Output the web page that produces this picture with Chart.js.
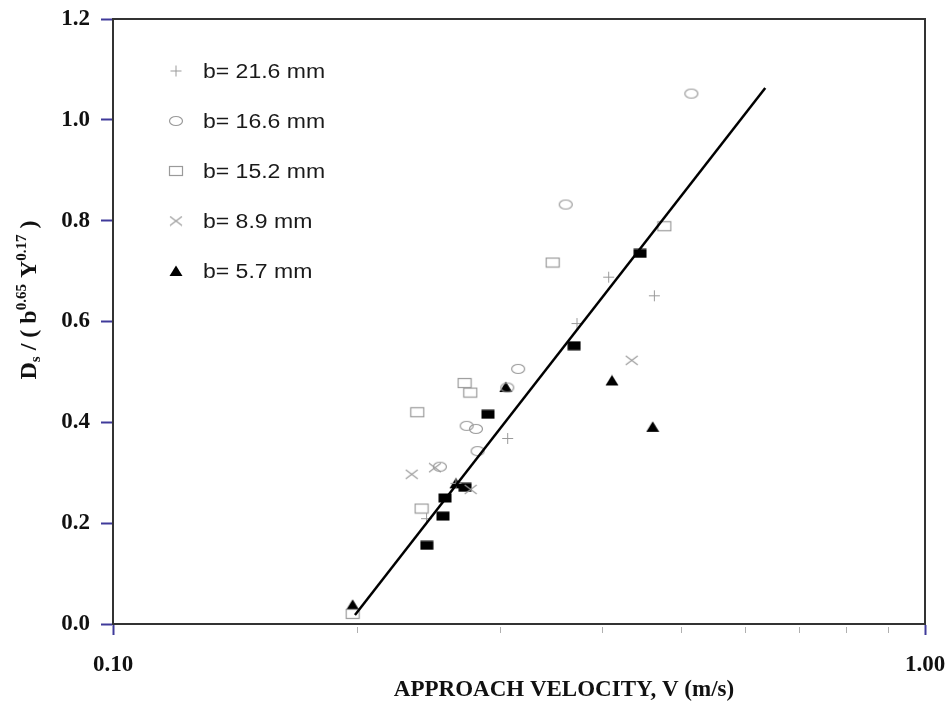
<!DOCTYPE html>
<html><head><meta charset="utf-8">
<script src="https://cdn.jsdelivr.net/npm/chart.js@4.4.1/dist/chart.umd.min.js"></script>
<style>html,body{margin:0;padding:0;background:#fff}#wrap{width:946px;height:702px;position:relative}</style>
</head><body><div id="wrap"><canvas id="c"></canvas></div>
<script>
// ---- data ----
const legendLabels = ['b= 21.6 mm', 'b= 16.6 mm', 'b= 15.2 mm', 'b= 8.9 mm', 'b= 5.7 mm'];
const v216 = [0.2433, 0.2644, 0.3062, 0.3727, 0.4078, 0.4642];
const d216 = [0.209, 0.279, 0.368, 0.596, 0.688, 0.651];
const v166 = [0.2527, 0.2726, 0.2799, 0.2812, 0.3059, 0.3155, 0.3610, 0.5155];
const d166 = [0.312, 0.393, 0.387, 0.343, 0.469, 0.506, 0.832, 1.052];
const v152 = [0.1973, 0.2399, 0.2370, 0.2710, 0.2754, 0.3479, 0.4775];
const d152 = [0.020, 0.229, 0.420, 0.478, 0.459, 0.717, 0.789];
const v89 = [0.2333, 0.2492, 0.2757, 0.4353];
const d89 = [0.297, 0.310, 0.267, 0.523];
const v57 = [0.1973, 0.2644, 0.3046, 0.4116, 0.4620];
const d57 = [0.038, 0.279, 0.470, 0.483, 0.391];
const vSolidSq = [0.2435, 0.2549, 0.2564, 0.2714, 0.2896, 0.3697, 0.4457];
const dSolidSq = [0.156, 0.214, 0.250, 0.271, 0.416, 0.552, 0.735];
const fitV = [0.1986, 0.6357];
const fitD = [0.018, 1.063];
const xTickValues = [0.1, 1.0];
const xTickText = ['0.10', '1.00'];
const yTickStep = 0.2;
const xTitle = 'APPROACH VELOCITY, V (m/s)';
const yTitleParts = ['D', 's', ' / ( b', '0.65', ' Y', '0.17', ' )'];

// ---- markers ----
const GREY = '#9a9a9a';
function mk(w, h, draw) { const c = document.createElement('canvas'); c.width = w; c.height = h; draw(c.getContext('2d')); return c; }
const mPlus = mk(13, 13, g => { g.strokeStyle = GREY; g.lineWidth = 1; g.beginPath(); g.moveTo(6.5, 1); g.lineTo(6.5, 12); g.moveTo(1, 6.5); g.lineTo(12, 6.5); g.stroke(); });
const mCircle = mk(16, 12, g => { g.strokeStyle = GREY; g.lineWidth = 1.2; g.beginPath(); g.ellipse(8, 6, 6.5, 4.5, 0, 0, Math.PI * 2); g.stroke(); });
const mSquare = mk(16, 12, g => { g.strokeStyle = GREY; g.lineWidth = 1.2; g.strokeRect(1.5, 1.5, 13, 9); });
const mCross = mk(14, 11, g => { g.strokeStyle = GREY; g.lineWidth = 1.1; g.beginPath(); g.moveTo(1, 1); g.lineTo(13, 10); g.moveTo(13, 1); g.lineTo(1, 10); g.stroke(); });
const mTri = mk(14, 12, g => { g.fillStyle = '#000'; g.beginPath(); g.moveTo(7, 0.5); g.lineTo(13.5, 11); g.lineTo(0.5, 11); g.closePath(); g.fill(); });
const mBlk = mk(14, 10, g => { g.fillStyle = '#000'; g.fillRect(0.5, 0.5, 13, 9); });

const pts = (V, D) => V.map((v, i) => ({ x: v, y: D[i] }));
const TICK_BLUE = '#3f3a9a';
const AXIS = '#333';
const isMajor = v => Math.abs(Math.log10(v) - Math.round(Math.log10(v))) < 1e-9;
const isWholeMinor = v => { const s = v / Math.pow(10, Math.floor(Math.log10(v) + 1e-9)); return Math.abs(s - Math.round(s)) < 1e-6; };

const datasets = [
  { label: 'fit', data: pts(fitV, fitD), showLine: true, pointRadius: 0, borderColor: '#000', borderWidth: 2.5, fill: false },
  { label: legendLabels[0], data: pts(v216, d216), pointStyle: mPlus, pointRadius: 6, legendMarker: mPlus },
  { label: legendLabels[1], data: pts(v166, d166), pointStyle: mCircle, pointRadius: 6, legendMarker: mCircle },
  { label: legendLabels[2], data: pts(v152, d152), pointStyle: mSquare, pointRadius: 6, legendMarker: mSquare },
  { label: legendLabels[3], data: pts(v89, d89), pointStyle: mCross, pointRadius: 6, legendMarker: mCross },
  { label: legendLabels[4], data: pts(v57, d57), pointStyle: mTri, pointRadius: 6, legendMarker: mTri },
  { label: 'solid', data: pts(vSolidSq, dSolidSq), pointStyle: mBlk, pointRadius: 6 }
];

const decor = {
  id: 'decor',
  afterDraw(chart) {
    const ctx = chart.ctx, a = chart.chartArea, xs = chart.scales.x;
    ctx.save();
    // top & right frame
    ctx.strokeStyle = AXIS; ctx.lineWidth = 2;
    ctx.beginPath(); ctx.moveTo(a.left, a.top); ctx.lineTo(a.right, a.top); ctx.lineTo(a.right, a.bottom); ctx.stroke();
    // minor x ticks (2..9 of each decade)
    ctx.strokeStyle = '#b0b0b0'; ctx.lineWidth = 1;
    xs.ticks.forEach(t => {
      if (isMajor(t.value) || !isWholeMinor(t.value)) return;
      const px = Math.round(xs.getPixelForValue(t.value)) + 0.5;
      ctx.beginPath(); ctx.moveTo(px, a.bottom + 3); ctx.lineTo(px, a.bottom + 9); ctx.stroke();
    });
    // legend
    const items = chart.data.datasets.filter(d => d.legendMarker);
    items.forEach((d, i) => {
      const y = a.top + 52 + i * 50;
      ctx.drawImage(d.legendMarker, 176 - d.legendMarker.width / 2, y - d.legendMarker.height / 2);
      ctx.save();
      ctx.translate(203, y);
      ctx.scale(1.15, 1);
      ctx.fillStyle = '#1a1a1a';
      ctx.font = '20px "Liberation Sans", Arial, sans-serif';
      ctx.textBaseline = 'middle';
      ctx.textAlign = 'left';
      ctx.fillText(d.label, 0, 1);
      ctx.restore();
    });
    // x title
    ctx.fillStyle = '#111';
    ctx.font = 'bold 23px "Liberation Serif", "Times New Roman", serif';
    ctx.textAlign = 'center'; ctx.textBaseline = 'middle';
    ctx.fillText(xTitle, 564, 690);
    // y title (rotated with sub/superscripts)
    const big = 'bold 24px "Liberation Serif", "Times New Roman", serif';
    const small = 'bold 15px "Liberation Serif", "Times New Roman", serif';
    const fonts = [big, small, big, small, big, small, big];
    const dys = [0, 4, 0, -10, 0, -10, 0];
    ctx.textAlign = 'left'; ctx.textBaseline = 'alphabetic';
    let total = 0;
    const widths = yTitleParts.map((p, i) => { ctx.font = fonts[i]; const w = ctx.measureText(p).width; total += w; return w; });
    ctx.translate(36, 300);
    ctx.rotate(-Math.PI / 2);
    let x = -total / 2;
    yTitleParts.forEach((p, i) => { ctx.font = fonts[i]; ctx.fillText(p, x, dys[i]); x += widths[i]; });
    ctx.restore();
  }
};

new Chart(document.getElementById('c'), {
  type: 'scatter',
  data: { datasets },
  options: {
    responsive: true, maintainAspectRatio: false, animation: false,
    layout: { padding: { left: 0, right: 21, top: 19, bottom: 0 } },
    plugins: { legend: { display: false }, tooltip: { enabled: false } },
    events: [],
    scales: {
      x: {
        type: 'logarithmic', min: 0.1, max: 1.0,
        afterFit: s => { s.height = 78; s.paddingLeft = 0; s.paddingRight = 0; },
        border: { color: AXIS, width: 2 },
        grid: { drawOnChartArea: false, drawTicks: true, tickLength: 11, tickWidth: 2,
                tickColor: c => (c.tick && isMajor(c.tick.value)) ? TICK_BLUE : 'rgba(0,0,0,0)' },
        ticks: {
          autoSkip: false, maxRotation: 0, minRotation: 0, padding: 16, color: '#111',
          font: { family: '"Liberation Serif", "Times New Roman", serif', size: 23, weight: 'bold' },
          callback: v => { const k = xTickValues.findIndex(t => Math.abs(t - v) < 1e-9); return k >= 0 ? xTickText[k] : ''; }
        },
        title: { display: false }
      },
      y: {
        min: 0, max: 1.2,
        afterFit: s => { s.width = 113; s.paddingTop = 0; s.paddingBottom = 0; },
        border: { color: AXIS, width: 2 },
        grid: { drawOnChartArea: false, drawTicks: true, tickLength: 12, tickWidth: 2, tickColor: TICK_BLUE },
        ticks: {
          stepSize: yTickStep, padding: 11, color: '#111',
          font: { family: '"Liberation Serif", "Times New Roman", serif', size: 23, weight: 'bold' },
          callback: v => Number(v).toFixed(1)
        },
        title: { display: false }
      }
    }
  },
  plugins: [decor]
});
</script></body></html>
